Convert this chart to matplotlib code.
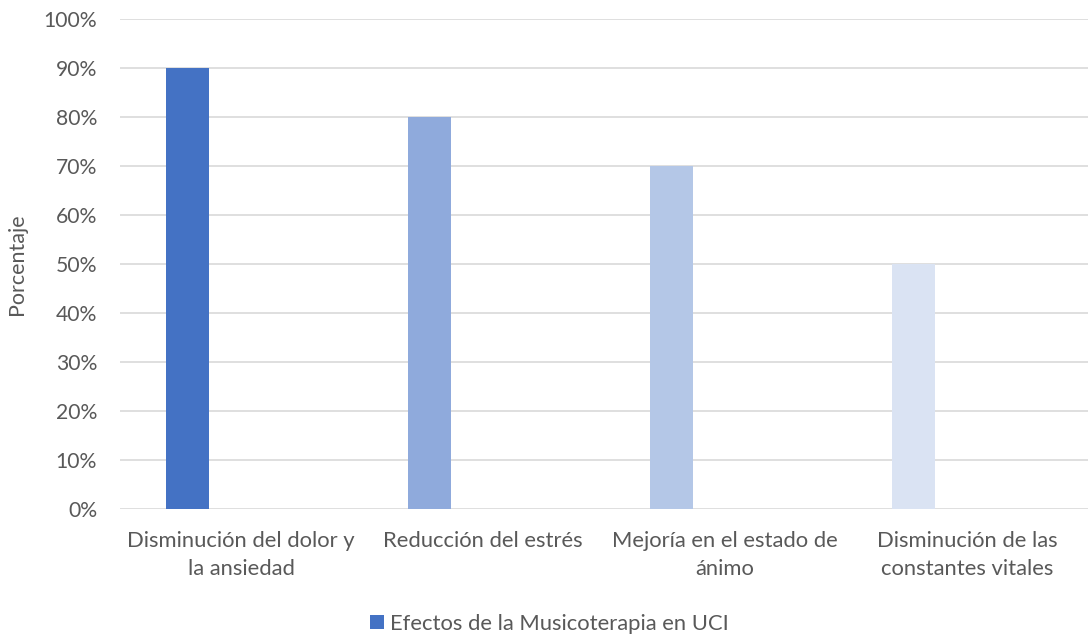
import matplotlib
matplotlib.use('Agg')
import matplotlib.pyplot as plt
from matplotlib.ticker import PercentFormatter

# Data
categorias = ['Disminución del dolor y\nla ansiedad', 'Reducción del estrés',
    'Mejoría en el estado de\nánimo', 'Disminución de las\nconstantes vitales']
valores = [0.90, 0.80, 0.70, 0.50]
colores = ['#4472C4', '#8FAADC', '#B4C7E7', '#DAE3F3']
serie = 'Efectos de la Musicoterapia en UCI'

plt.rcParams['font.family'] = ['Lato', 'DejaVu Sans']
gris = '#595959'

fig = plt.figure(figsize=(10.88, 6.37), dpi=100)
ax = fig.add_axes([0.1103, 0.2009, 0.8897, 0.7693])

x = list(range(len(categorias)))
bars = ax.bar([i - 0.22 for i in x], valores, width=0.177, color=colores,
    zorder=3, label=serie)

ax.set_xlim(-0.5, len(categorias) - 0.5)
ax.set_ylim(0, 1.0)
ax.set_yticks([i / 10 for i in range(11)])
ax.yaxis.set_major_formatter(PercentFormatter(1.0, decimals=0))
ax.set_xticks(x)
ax.set_xticklabels(categorias, fontsize=15.8, color=gris, linespacing=1.5)
ax.tick_params(axis='y', labelsize=15.2, labelcolor=gris, length=0, pad=16.5)
ax.tick_params(axis='x', length=0, pad=16)
ax.grid(axis='y', color='#d9d9d9', linewidth=1.2, zorder=0)
for s in ax.spines.values():
    s.set_visible(False)

ax.set_ylabel('Porcentaje', fontsize=15.5, color=gris, labelpad=12)

leg = fig.legend([bars[0]], [serie], loc='center', bbox_to_anchor=(0.505, 0.021),
    frameon=False, fontsize=15.8, handlelength=0.65, handleheight=0.65,
    handletextpad=0.3)
for t in leg.get_texts():
    t.set_color(gris)

fig.savefig('out.png', dpi=100)
